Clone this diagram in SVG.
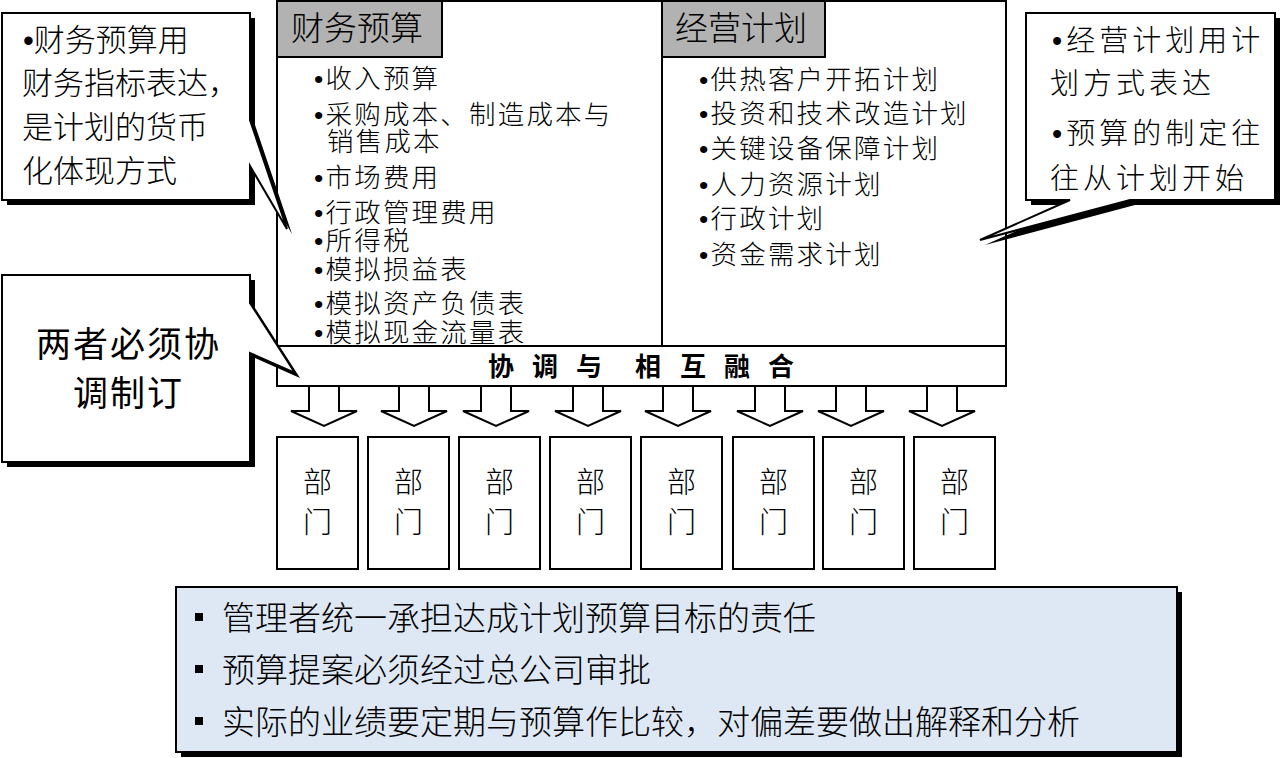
<svg xmlns="http://www.w3.org/2000/svg" width="1285" height="758" viewBox="0 0 1285 758">
<defs>
<style>
text{font-family:"Liberation Sans","Noto Sans CJK SC",sans-serif;fill:#000;font-weight:300}
.box{fill:#fff;stroke:#000;stroke-width:2}
.hdr{fill:#b2b2b2;stroke:#000;stroke-width:2}
.shadow{fill:#000;stroke:none}
.arrow{fill:#fff;stroke:#000;stroke-width:2;stroke-linejoin:miter}
.h{font-size:33px}
.li{font-size:26.5px;letter-spacing:2.2px}
.c1{font-size:31px}
.c2{font-size:29px;letter-spacing:4px}
.c3{font-size:35px;letter-spacing:2px;text-anchor:middle;font-weight:normal}
.strip{font-size:26px;font-weight:bold}
.dept{font-size:29px;text-anchor:middle}
.bt{font-size:33px}
</style>
</defs>
<rect width="1285" height="758" fill="#fff"/>

<g id="main-box">
<rect class="box" x="277" y="1" width="729" height="385"/>
<line x1="662" y1="1" x2="662" y2="346" stroke="#000" stroke-width="2"/>
</g>

<g id="financial-budget">
<rect class="hdr" x="277" y="1" width="165" height="56"/>
<text class="h" x="291" y="40">财务预算</text>
<text class="li" x="314" y="88">•收入预算</text>
<text class="li" x="314" y="124">•采购成本、制造成本与</text>
<text class="li" x="327" y="151">销售成本</text>
<text class="li" x="314" y="187">•市场费用</text>
<text class="li" x="314" y="222">•行政管理费用</text>
<text class="li" x="314" y="250">•所得税</text>
<text class="li" x="314" y="279">•模拟损益表</text>
<text class="li" x="314" y="313">•模拟资产负债表</text>
<text class="li" x="314" y="342">•模拟现金流量表</text>
</g>

<g id="operating-plan">
<rect class="hdr" x="662" y="1" width="163" height="56"/>
<text class="h" x="675" y="40">经营计划</text>
<text class="li" x="699" y="89">•供热客户开拓计划</text>
<text class="li" x="699" y="123">•投资和技术改造计划</text>
<text class="li" x="699" y="158">•关键设备保障计划</text>
<text class="li" x="699" y="194">•人力资源计划</text>
<text class="li" x="699" y="228">•行政计划</text>
<text class="li" x="699" y="264">•资金需求计划</text>
</g>

<g id="coordination-strip">
<rect class="box" x="277" y="346" width="729" height="40"/>
<text class="strip" x="488 532 576 635 680 724 768" y="376">协调与相互融合</text>
</g>

<g id="connectors">
<polygon class="arrow" points="309,386 309,411 291,411 324,426 357,411 339,411 339,386"/>
<polygon class="arrow" points="399,386 399,411 381,411 414,426 447,411 429,411 429,386"/>
<polygon class="arrow" points="481,386 481,411 463,411 496,426 529,411 511,411 511,386"/>
<polygon class="arrow" points="573,386 573,411 555,411 588,426 621,411 603,411 603,386"/>
<polygon class="arrow" points="663,386 663,411 645,411 678,426 711,411 693,411 693,386"/>
<polygon class="arrow" points="755,386 755,411 737,411 770,426 803,411 785,411 785,386"/>
<polygon class="arrow" points="836,386 836,411 818,411 851,426 884,411 866,411 866,386"/>
<polygon class="arrow" points="927,386 927,411 909,411 942,426 975,411 957,411 957,386"/>
</g>

<g id="dept-1"><rect class="box" x="277" y="437" width="81" height="132"/><text class="dept" x="317.5" y="493">部</text><text class="dept" x="317.5" y="533">门</text></g>
<g id="dept-2"><rect class="box" x="368" y="437" width="81" height="132"/><text class="dept" x="408.5" y="493">部</text><text class="dept" x="408.5" y="533">门</text></g>
<g id="dept-3"><rect class="box" x="459" y="437" width="81" height="132"/><text class="dept" x="499.5" y="493">部</text><text class="dept" x="499.5" y="533">门</text></g>
<g id="dept-4"><rect class="box" x="550" y="437" width="81" height="132"/><text class="dept" x="590.5" y="493">部</text><text class="dept" x="590.5" y="533">门</text></g>
<g id="dept-5"><rect class="box" x="641" y="437" width="81" height="132"/><text class="dept" x="681.5" y="493">部</text><text class="dept" x="681.5" y="533">门</text></g>
<g id="dept-6"><rect class="box" x="733" y="437" width="81" height="132"/><text class="dept" x="773.5" y="493">部</text><text class="dept" x="773.5" y="533">门</text></g>
<g id="dept-7"><rect class="box" x="823" y="437" width="81" height="132"/><text class="dept" x="863.5" y="493">部</text><text class="dept" x="863.5" y="533">门</text></g>
<g id="dept-8"><rect class="box" x="914" y="437" width="81" height="132"/><text class="dept" x="954.5" y="493">部</text><text class="dept" x="954.5" y="533">门</text></g>

<g id="callout-financial">
<path class="shadow" transform="translate(5,5)" d="M2,13 H250 V120 L287,229 L250,166 V200 H2 Z"/>
<path class="box" d="M2,13 H250 V120 L287,229 L250,166 V200 H2 Z"/>
<text class="c1" x="23" y="51">•财务预算用</text>
<text class="c1" x="22" y="94">财务指标表达，</text>
<text class="c1" x="22" y="138">是计划的货币</text>
<text class="c1" x="22" y="182">化体现方式</text>
</g>

<g id="callout-operating">
<path class="shadow" transform="translate(5,5)" d="M1026,13 H1275 V200 H1130 L980,240 L1070,200 H1026 Z"/>
<path class="box" d="M1026,13 H1275 V200 H1130 L980,240 L1070,200 H1026 Z"/>
<text class="c2" x="1052" y="51">•经营计划用计</text>
<text class="c2" x="1050" y="94">划方式表达</text>
<text class="c2" x="1052" y="144">•预算的制定往</text>
<text class="c2" x="1050" y="189">往从计划开始</text>
</g>

<g id="callout-coordinate">
<path class="shadow" transform="translate(5,5)" d="M2,275 H250 V303 L295,373 L250,353 V462 H2 Z"/>
<path class="box" d="M2,275 H250 V303 L295,373 L250,353 V462 H2 Z"/>
<text class="c3" x="128.5" y="357">两者必须协</text>
<text class="c3" x="128.5" y="406">调制订</text>
</g>

<g id="summary-box">
<rect class="shadow" x="181" y="592" width="1001" height="165"/>
<rect x="176" y="587" width="1001" height="165" fill="#dee8f4" stroke="#000" stroke-width="2"/>
<rect x="195" y="613" width="8" height="8" fill="#000"/>
<rect x="195" y="665" width="8" height="8" fill="#000"/>
<rect x="195" y="717" width="8" height="8" fill="#000"/>
<text class="bt" x="222" y="630">管理者统一承担达成计划预算目标的责任</text>
<text class="bt" x="222" y="682">预算提案必须经过总公司审批</text>
<text class="bt" x="222" y="734">实际的业绩要定期与预算作比较，对偏差要做出解释和分析</text>
</g>
</svg>
